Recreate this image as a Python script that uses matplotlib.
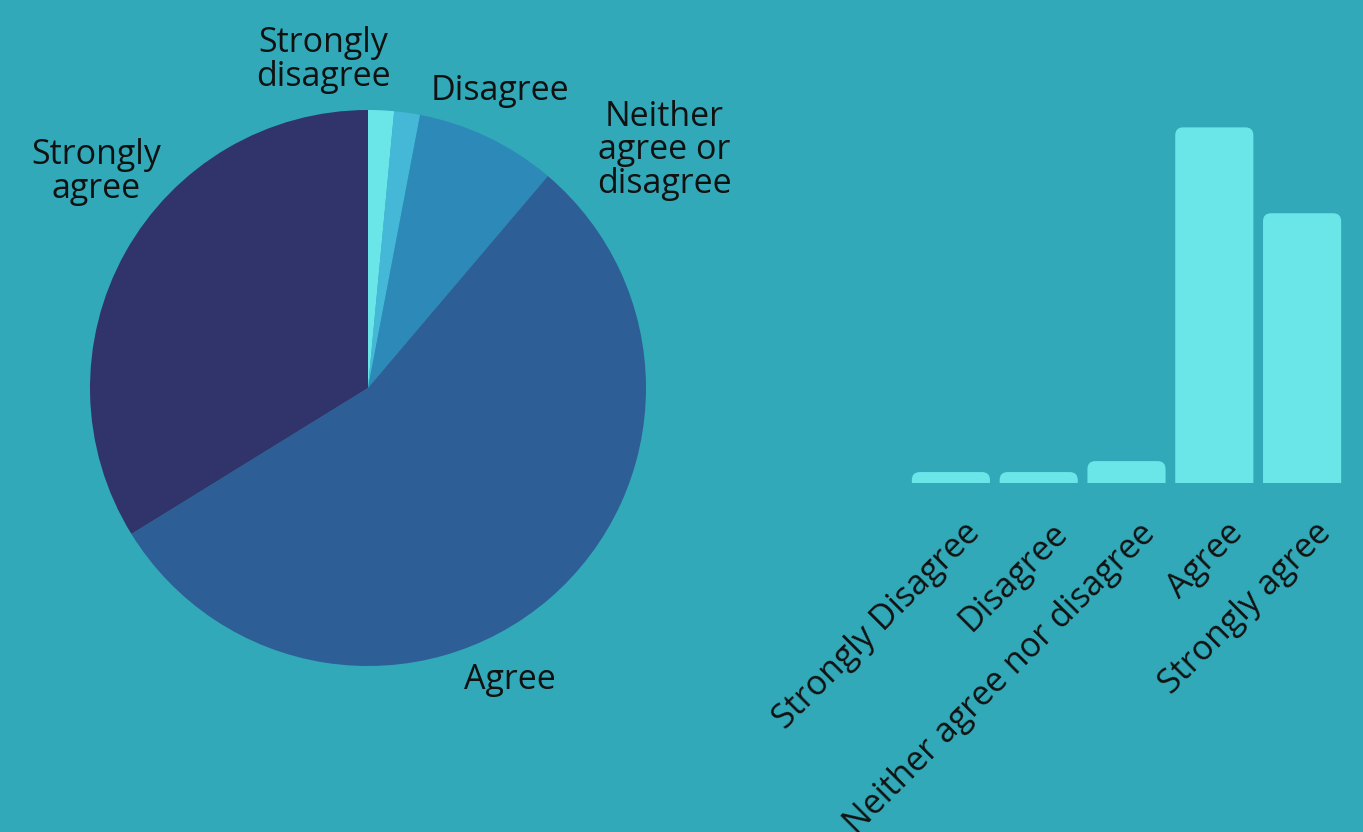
import numpy as np
import matplotlib
matplotlib.use("Agg")
import matplotlib.pyplot as plt
import matplotlib.transforms as mtransforms
from matplotlib.patches import FancyBboxPatch

plt.rcParams['font.family'] = ['Open Sans', 'DejaVu Sans']

# pie data (percent)
pie_labels = ["Strongly\ndisagree", "Disagree", "Neither\nagree or\ndisagree", "Agree", "Strongly\nagree"]
pie_values = [1.5, 1.5, 8.2, 55.0, 33.8]
pie_colors = ["#6ae6e9", "#45b8d8", "#2c89b8", "#2e5e96", "#30346a"]
# where each label sits (data coords of the pie axes)
pie_label_pos = [(-0.162, 1.18), (0.475, 1.068), (1.065, 0.856), (0.511, -1.05), (-0.978, 0.777)]

# bar data (counts)
bar_labels = ["Strongly Disagree", "Disagree", "Neither agree nor disagree", "Agree", "Strongly agree"]
bar_values = [2, 2, 4, 65, 49.3]

bg = "#31a9b8"
bar_color = "#6ae6e9"
W, H = 1363, 832
fs = 24.5

fig = plt.figure(figsize=(W / 100, H / 100), dpi=100, facecolor=bg)

# ---- pie ----
cx, cy, r = 368, 388, 278
ax1 = fig.add_axes([(cx - r) / W, (H - cy - r) / H, 2 * r / W, 2 * r / H])
ax1.set_facecolor(bg)
ax1.pie(pie_values, colors=pie_colors, startangle=90, counterclock=False,
        wedgeprops=dict(linewidth=0))
ax1.set_xlim(-1, 1)
ax1.set_ylim(-1, 1)
ax1.axis("off")
for lab, (x, y) in zip(pie_labels, pie_label_pos):
    ax1.text(x, y, lab, ha="center", va="center", fontsize=fs, color="#111111",
             linespacing=0.98, clip_on=False)

# ---- bars ----
left, right, base, top = 907, 1346, 483, 100
ax2 = fig.add_axes([left / W, (H - base) / H, (right - left) / W, (base - top) / H])
ax2.set_facecolor(bg)
x = np.arange(len(bar_values))
bars = ax2.bar(x, bar_values, width=0.89, color=bar_color, alpha=0)
ax2.set_xlim(-0.5, len(bar_values) - 0.5)
ax2.set_ylim(0, 70)
fig.canvas.draw()
# rounded tops: convert 8px into data units
px_x = ax2.transData.transform((1, 0))[0] - ax2.transData.transform((0, 0))[0]
px_y = ax2.transData.transform((0, 1))[1] - ax2.transData.transform((0, 0))[1]
rs = 8 / px_x
aspect = px_x / px_y
for b in bars:
    ext = rs * aspect
    p = FancyBboxPatch((b.get_x(), -ext), b.get_width(), b.get_height() + ext,
                       boxstyle=f"round,pad=0,rounding_size={rs}",
                       mutation_aspect=aspect, facecolor=bar_color,
                       edgecolor="none", clip_on=True)
    ax2.add_patch(p)

ax2.set_xticks(x)
ax2.set_xticklabels(bar_labels, rotation=45, ha="right", rotation_mode="anchor",
                    fontsize=fs, color="#111111")
ax2.tick_params(axis="x", length=0, pad=24)
shift = mtransforms.ScaledTranslation(12 / 100, 0, fig.dpi_scale_trans)
for t in ax2.get_xticklabels():
    t.set_transform(t.get_transform() + shift)
ax2.set_yticks([])
for s in ax2.spines.values():
    s.set_visible(False)

fig.savefig("out.png", dpi=100, facecolor=bg)
